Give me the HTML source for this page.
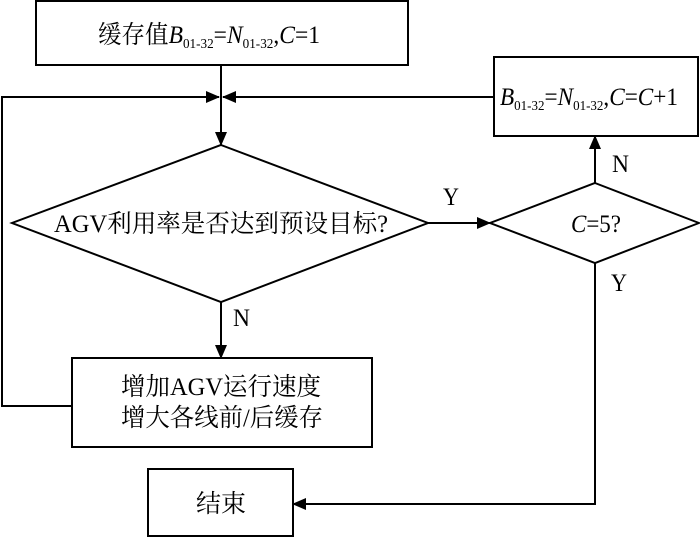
<!DOCTYPE html>
<html><head><meta charset="utf-8"><style>html,body{margin:0;padding:0;background:#fff}svg{display:block}</style></head>
<body>
<svg width="700" height="537" viewBox="0 0 700 537" xmlns="http://www.w3.org/2000/svg" font-family="Liberation Serif, Noto Serif CJK SC, serif" font-size="25" fill="#000">
<defs><marker id="a" markerWidth="14" markerHeight="14" refX="13" refY="7" orient="auto" markerUnits="userSpaceOnUse"><path d="M0,1 L14,7 L0,13 z" fill="#000"/></marker></defs>
<g stroke="#000" stroke-width="2" fill="none">
<rect x="36" y="1" width="372" height="64"/>
<rect x="494" y="57" width="204" height="79"/>
<polygon points="221,145 428,223 221,302 12,223"/>
<polygon points="595,183 699,223 595,263 490,223"/>
<rect x="72" y="358" width="300" height="89"/>
<rect x="148" y="469" width="145" height="67"/>
<line x1="221" y1="65" x2="221" y2="145" marker-end="url(#a)"/>
<polyline points="72,406 2,406 2,97 219,97" marker-end="url(#a)"/>
<line x1="494" y1="97" x2="223" y2="97" marker-end="url(#a)"/>
<line x1="428" y1="223" x2="490" y2="223" marker-end="url(#a)"/>
<line x1="595" y1="183" x2="595" y2="136" marker-end="url(#a)"/>
<line x1="221" y1="302" x2="221" y2="358" marker-end="url(#a)"/>
<polyline points="595,263 595,504 293,504" marker-end="url(#a)"/>
</g>
<text x="98" y="43" textLength="222" lengthAdjust="spacingAndGlyphs">缓存值<tspan font-style="italic">B</tspan><tspan font-size="14" dy="5">01-32</tspan><tspan dy="-5">=</tspan><tspan font-style="italic">N</tspan><tspan font-size="14" dy="5">01-32</tspan><tspan dy="-5">,</tspan><tspan font-style="italic">C</tspan>=1</text>
<text x="500" y="105" textLength="178" lengthAdjust="spacingAndGlyphs"><tspan font-style="italic">B</tspan><tspan font-size="14" dy="5">01-32</tspan><tspan dy="-5">=</tspan><tspan font-style="italic">N</tspan><tspan font-size="14" dy="5">01-32</tspan><tspan dy="-5">,</tspan><tspan font-style="italic">C</tspan>=<tspan font-style="italic">C</tspan>+1</text>
<text x="54" y="232" textLength="334" lengthAdjust="spacingAndGlyphs">AGV利用率是否达到预设目标?</text>
<text x="571" y="232" textLength="50" lengthAdjust="spacingAndGlyphs"><tspan font-style="italic">C</tspan>=5?</text>
<text x="121" y="395" textLength="200" lengthAdjust="spacingAndGlyphs">增加AGV运行速度</text>
<text x="121" y="426" textLength="202" lengthAdjust="spacingAndGlyphs">增大各线前/后缓存</text>
<text x="196" y="512" textLength="50" lengthAdjust="spacingAndGlyphs">结束</text>
<text x="443" y="205" textLength="16" lengthAdjust="spacingAndGlyphs">Y</text>
<text x="612" y="172" textLength="17" lengthAdjust="spacingAndGlyphs">N</text>
<text x="611" y="291" textLength="16" lengthAdjust="spacingAndGlyphs">Y</text>
<text x="233" y="326" textLength="17" lengthAdjust="spacingAndGlyphs">N</text>
</svg>
</body></html>
